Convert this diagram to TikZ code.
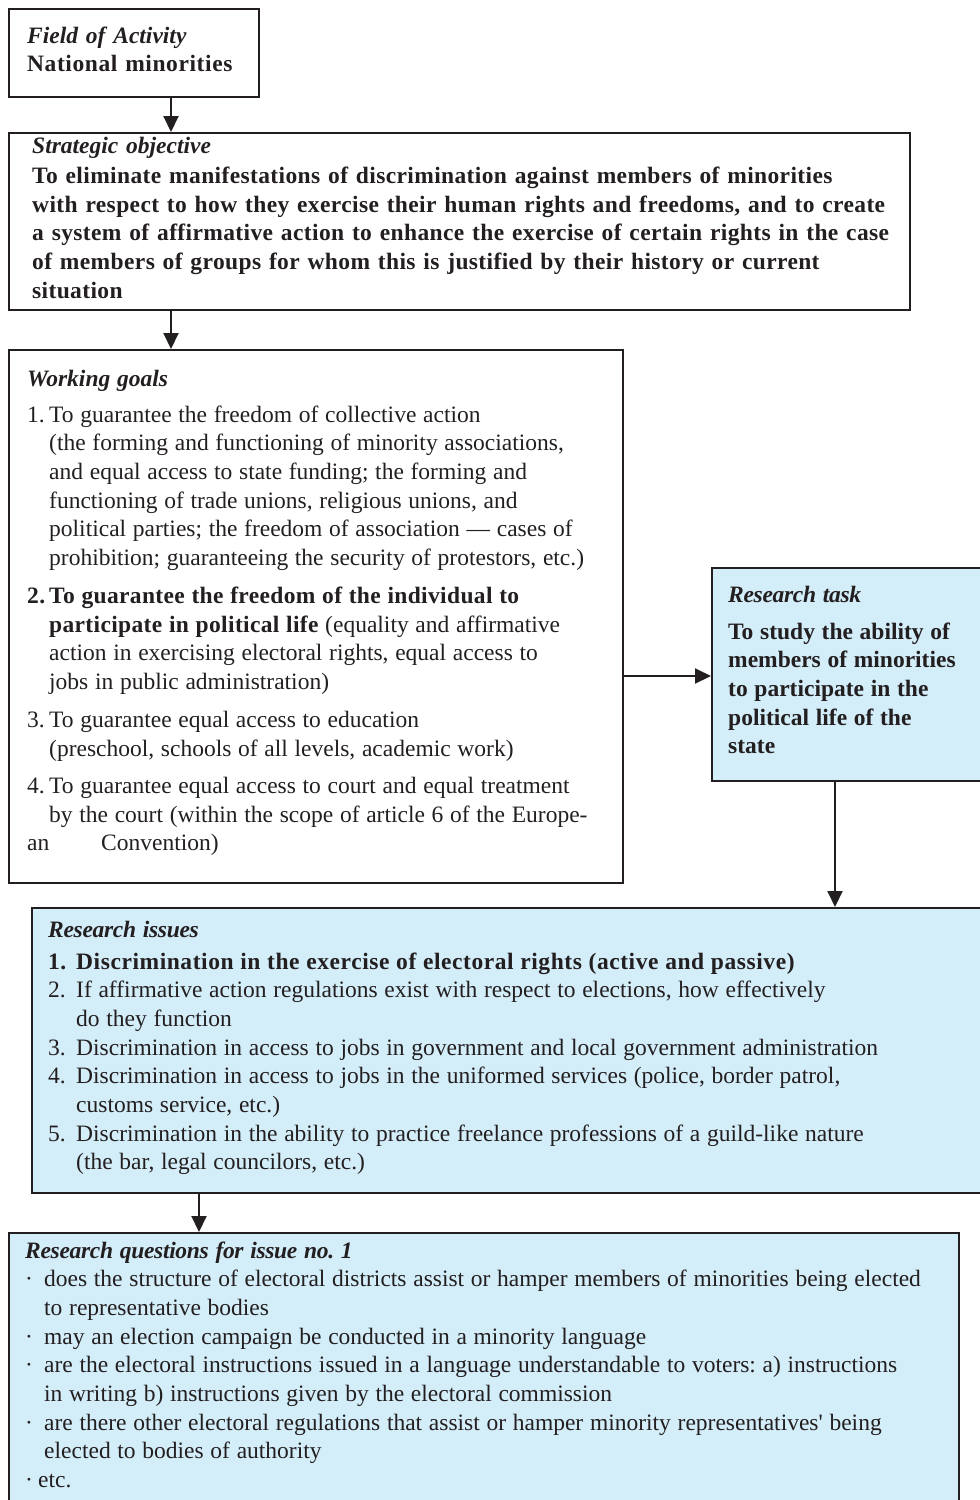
\documentclass[tikz,border=0pt]{standalone}
\usepackage{fontspec}
\setmainfont{Liberation Serif}
\newfontfamily\spacedfont[LetterSpace=1.6]{Liberation Serif}
\newfontfamily\quotefont[Ligatures=TeXOff]{Liberation Serif}
\usetikzlibrary{arrows.meta}
\definecolor{ink}{RGB}{35,31,32}
\definecolor{taskblue}{RGB}{211,237,249}
\newcommand{\numlab}[2][22pt]{\makebox[#1][l]{#2}}
\newcommand{\wrapind}[1][22pt]{\hspace*{#1}}
\newcommand{\headit}[1]{\textbf{\textit{#1}}}
\newcommand{\blueheadit}[1]{{\bfseries\itshape\addfontfeatures{LetterSpace=-1.3}#1}}
\newcommand{\widebf}[2][1.5]{{\bfseries\addfontfeatures{LetterSpace=#1}#2}}
\newcommand{\tightspaces}{\frenchspacing\spaceskip=6.7pt plus 1pt minus 1pt\relax}

\begin{document}
\begin{tikzpicture}[x=1pt, y=-1pt,
  box/.style={draw=ink, line width=2.2pt, anchor=north west, inner sep=0pt},
  bluebox/.style={box, fill=taskblue},
  txt/.style={anchor=base west, inner sep=0pt, align=left, text=ink,
    font=\fontsize{23.5}{28.7}\selectfont},
  arr/.style={draw=ink, line width=2pt, -{Triangle[length=16pt, width=15pt]}}]
  \useasboundingbox (0,0) rectangle (980,1500);
  \clip (0,0) rectangle (980,1500);
  % frames, top to bottom (blue ones run off the page)
  \node[box, minimum width=250pt, minimum height=88pt] (field) at (8,8) {};
  \node[box, minimum width=901pt, minimum height=177pt] (strat) at (8,132) {};
  \node[box, minimum width=614pt, minimum height=533pt] (goals) at (8,349) {};
  \node[bluebox, minimum width=290pt, minimum height=213pt] (task) at (711,567) {};
  \node[bluebox, minimum width=970pt, minimum height=285pt] (issues) at (31,907) {};
  \node[bluebox, minimum width=950pt, minimum height=290pt] (quest) at (8,1232) {};
  % connectors
  \draw[arr] (field.south -| 171,0) -- (strat.north -| 171,0);
  \draw[arr] (strat.south -| 171,0) -- (goals.north -| 171,0);
  \draw[arr] (goals.east |- 0,676) -- (task.west |- 0,676);
  \draw[arr] (task.south -| 835,0) -- (issues.north -| 835,0);
  \draw[arr] (issues.south -| 199,0) -- (quest.north -| 199,0);
  % texts
  \node[txt, text width=230pt] (fieldtxt) at (27,43)
    {\headit{Field of Activity}\\
     {\spacedfont\bfseries\addfontfeatures{LetterSpace=2.5}National minorities}};
  \node[txt, text width=880pt] (strattxt) at (32,153)
    {\headit{Strategic objective}\\[1.8pt]
     \spacedfont\bfseries
     To eliminate manifestations of discrimination against members of minorities\\
     with respect to how they exercise their human rights and freedoms, and to create\\
     a system of affirmative action to enhance the exercise of certain rights in the case\\
     of members of groups for whom this is justified by their history or current\\
     situation};
  \node[txt, text width=600pt] (goalstxt) at (27,386)
    {\tightspaces\headit{Working goals}\\[7.3pt]
     \numlab{1.}To guarantee the freedom of collective action\\
     \wrapind(the forming and functioning of minority associations,\\
     \wrapind and equal access to state funding; the forming and\\
     \wrapind functioning of trade unions, religious unions, and\\
     \wrapind political parties; the freedom of association --- cases of\\
     \wrapind prohibition; guaranteeing the security of protestors, etc.)\\[9.3pt]
     \widebf{\numlab{2.}To guarantee the freedom of the individual to}\\
     \wrapind\widebf{participate in political life} (equality and affirmative\\
     \wrapind action in exercising electoral rights, equal access to\\
     \wrapind jobs in public administration)\\[9.3pt]
     \numlab{3.}To guarantee equal access to education\\
     \wrapind(preschool, schools of all levels, academic work)\\[8.3pt]
     \numlab{4.}To guarantee equal access to court and equal treatment\\
     \wrapind by the court (within the scope of article 6 of the Europe-\\
     \makebox[74pt][l]{an}Convention)};
  \node[txt, text width=250pt] (tasktxt) at (728,602)
    {\tightspaces\blueheadit{Research task}\\[8.3pt]
     \bfseries To study the ability of\\
     members of minorities\\
     to participate in the\\
     political life of the\\
     state};
  \node[txt, text width=930pt] (issuestxt) at (48,937)
    {\tightspaces\blueheadit{Research issues}\\[3.3pt]
     \widebf[2.4]{\numlab[28pt]{1.}Discrimination in the exercise of electoral rights (active and passive)}\\
     \numlab[28pt]{2.}If affirmative action regulations exist with respect to elections, how effectively\\
     \wrapind[28pt]do they function\\
     \numlab[28pt]{3.}Discrimination in access to jobs in government and local government administration\\
     \numlab[28pt]{4.}Discrimination in access to jobs in the uniformed services (police, border patrol,\\
     \wrapind[28pt]customs service, etc.)\\
     \numlab[28pt]{5.}Discrimination in the ability to practice freelance professions of a guild-like nature\\
     \wrapind[28pt](the bar, legal councilors, etc.)};
  \node[txt, text width=945pt] (questtxt) at (25,1258)
    {\tightspaces\blueheadit{Research questions for issue no. 1}\\
     \numlab[19pt]{·}does the structure of electoral districts assist or hamper members of minorities being elected\\
     \wrapind[19pt]to representative bodies\\
     \numlab[19pt]{·}may an election campaign be conducted in a minority language\\
     \numlab[19pt]{·}are the electoral instructions issued in a language understandable to voters: a) instructions\\
     \wrapind[19pt]in writing b) instructions given by the electoral commission\\
     \numlab[19pt]{·}are there other electoral regulations that assist or hamper minority representatives{\quotefont'} being\\
     \wrapind[19pt]elected to bodies of authority\\
     \makebox[13pt][l]{·}etc.};
\end{tikzpicture}
\end{document}
